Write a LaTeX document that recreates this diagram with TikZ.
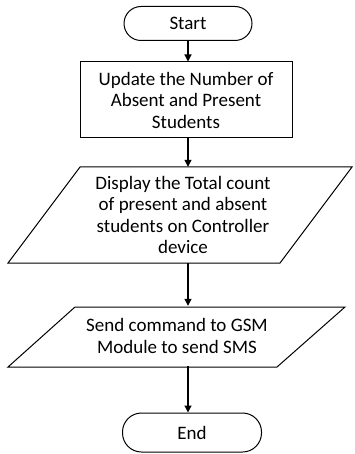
\documentclass[tikz,border=0pt]{standalone}
\usepackage{fontspec}
\setmainfont{Carlito}
\usetikzlibrary{arrows.meta}
\begin{document}
\begin{tikzpicture}[x=1pt,y=-1pt,
  every node/.style={font=\fontsize{19}{21.5}\selectfont, align=center, inner sep=0pt},
  term/.style={draw, line width=1pt, rounded corners=17pt, minimum height=34pt},
  procbox/.style={draw, line width=1pt, minimum width=212pt, minimum height=76pt},
  iobox/.style={draw, line width=1pt},
  arr/.style={draw, line width=1.2pt, -{Triangle[length=7pt,width=7pt]}}]
\useasboundingbox (0,0) rectangle (354,454);
\node[term, minimum width=128pt] (start) at (188,23.5) {Start};
\node[procbox] (proc) at (186,100) {Update the Number of\\Absent and Present\\Students};
\draw[iobox] (80,167) -- (352,167) -- (280,263) -- (8,263) -- cycle;
\node[minimum height=96pt, minimum width=200pt] (disp) at (183,215) {Display the Total count\\of present and absent\\students on Controller\\device};
\draw[iobox] (75,307) -- (345,307) -- (277,367) -- (8,367) -- cycle;
\node[minimum height=60pt, minimum width=200pt] (sms) at (177,336) {Send command to GSM\\Module to send SMS};
\node[term, minimum width=139pt, minimum height=39pt, rounded corners=19pt] (end) at (192,432.5) {End};
\draw[arr] (start.south) -- (start.south |- proc.north);
\draw[arr] (start.south |- proc.south) -- (start.south |- disp.north);
\draw[arr] (start.south |- disp.south) -- (start.south |- sms.north);
\draw[arr] (start.south |- sms.south) -- (start.south |- end.north);
\end{tikzpicture}
\end{document}
